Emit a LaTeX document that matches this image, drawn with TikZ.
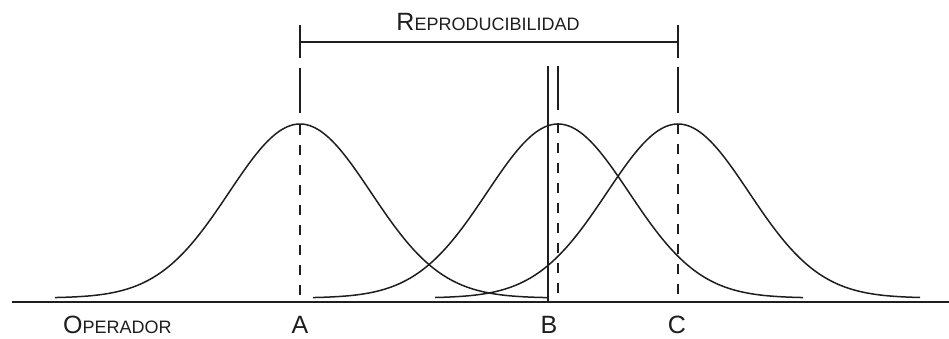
\documentclass[tikz,border=0pt]{standalone}
\usepackage{fontspec}
\setmainfont{Liberation Sans}
\definecolor{ink}{HTML}{1E1E1E}
\newcommand{\scap}[2]{{\fontsize{25}{25}\selectfont #1}{\fontsize{18}{18}\selectfont #2}}
\begin{document}
\begin{tikzpicture}[x=1pt,y=-1pt,
  axisline/.style={ink,line width=2pt},
  bell/.style={ink,line width=1.5pt,smooth,samples=90},
  vline/.style={ink,line width=2pt},
  dline/.style={ink,line width=2pt,dash pattern=on 10pt off 10pt},
  lab/.style={inner sep=0pt,anchor=base,text=ink}]
\useasboundingbox (0,0) rectangle (949,338);
% baseline
\coordinate (L) at (12,302);
\coordinate (R) at (949,302);
\draw[axisline] (L) -- (R);
% bell curves
\draw[bell] plot[domain=55:547] (\x,{298-174*exp(-0.5*((\x-300)/71)^2)});
\draw[bell] plot[domain=313:803] (\x,{298-174*exp(-0.5*((\x-558)/71)^2)});
\draw[bell] plot[domain=435:920] (\x,{298-174*exp(-0.5*((\x-678)/71)^2)});
% reproducibility bracket
\coordinate (At) at (300,25);
\coordinate (Ab) at (300,58);
\coordinate (Ct) at (678,25);
\coordinate (Cb) at (678,58);
\coordinate (Am) at (300,42);
\coordinate (Cm) at (678,42);
\draw[vline] (At) -- (Ab);
\draw[vline] (Ct) -- (Cb);
\draw[vline] (Am) -- (Cm);
% A line
\coordinate (A1) at (300,68);
\coordinate (A2) at (300,113);
\coordinate (A3) at (300,125);
\coordinate (A4) at (300,298);
\draw[vline] (A1) -- (A2);
\draw[dline] (A3) -- (A4);
% C line
\coordinate (C1) at (678,67);
\coordinate (C2) at (678,113);
\coordinate (C3) at (678,124);
\coordinate (C4) at (678,298);
\draw[vline] (C1) -- (C2);
\draw[dline] (C3) -- (C4);
% B lines
\coordinate (S1) at (548,66);
\coordinate (S2) at (548,302);
\draw[vline] (S1) -- (S2);
\coordinate (B1) at (558,66);
\coordinate (B2) at (558,110);
\coordinate (B3) at (558,123);
\coordinate (B4) at (558,298);
\draw[vline] (B1) -- (B2);
\draw[dline] (B3) -- (B4);
% labels
\node[lab] (repro) at (488,30) {\scap{R}{EPRODUCIBILIDAD}};
\node[lab,anchor=base west] (oper) at (63,333) {\scap{O}{PERADOR}};
\node[lab] (labA) at (300,333) {\fontsize{25}{25}\selectfont A};
\node[lab] (labB) at (549,333) {\fontsize{25}{25}\selectfont B};
\node[lab] (labC) at (677,333) {\fontsize{25}{25}\selectfont C};
\end{tikzpicture}
\end{document}
